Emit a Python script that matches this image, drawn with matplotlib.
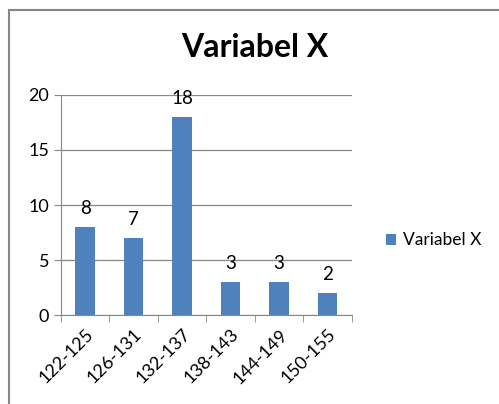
import matplotlib.pyplot as plt
from matplotlib.patches import Rectangle
import numpy as np

# --- data ---
categories = ["122-125", "126-131", "132-137", "138-143", "144-149", "150-155"]
counts = [8, 7, 18, 3, 3, 2]
series_name = "Variabel X"

plt.rcParams["font.family"] = ["Lato", "DejaVu Sans"]

fig = plt.figure(figsize=(4.99, 4.04), dpi=100)
ax = fig.add_axes([0.122, 0.22, 0.583, 0.545])

# chart frame like excel
fig.patches.append(Rectangle((0.018, -0.1), 1.2, 1.075, transform=fig.transFigure,
                             fill=False, edgecolor="#868686", linewidth=1.5))

x = np.arange(len(categories))
bars = ax.bar(x, counts, width=0.4, color="#4F81BD", label=series_name, zorder=3)
ax.bar_label(bars, padding=7, fontsize=13.5)

ax.set_xlim(-0.5, len(categories) - 0.5)
ax.set_ylim(0, 20)
ax.set_yticks([0, 5, 10, 15, 20])
ax.yaxis.grid(True, color="#878787", linewidth=0.9, zorder=0)

ax.set_xticks(x)
ax.set_xticklabels(categories, rotation=45, ha="right", rotation_mode="anchor", fontsize=13)
ax.set_xticks(np.arange(len(categories) + 1) - 0.5, minor=True)
ax.tick_params(axis="x", which="major", length=0, pad=8)
ax.tick_params(axis="x", which="minor", length=5, color="#878787")
ax.tick_params(axis="y", length=5, color="#878787", labelsize=13)

for side in ["top", "right"]:
    ax.spines[side].set_visible(False)
for side in ["left", "bottom"]:
    ax.spines[side].set_color("#878787")

fig.text(0.51, 0.882, "Variabel X", ha="center", va="center", fontsize=23, fontweight="bold")

fig.legend(loc="center left", bbox_to_anchor=(0.742, 0.405), frameon=False,
           fontsize=12.5, handlelength=0.6, handleheight=0.6, handletextpad=0.4)

plt.savefig("out.png", dpi=100)
